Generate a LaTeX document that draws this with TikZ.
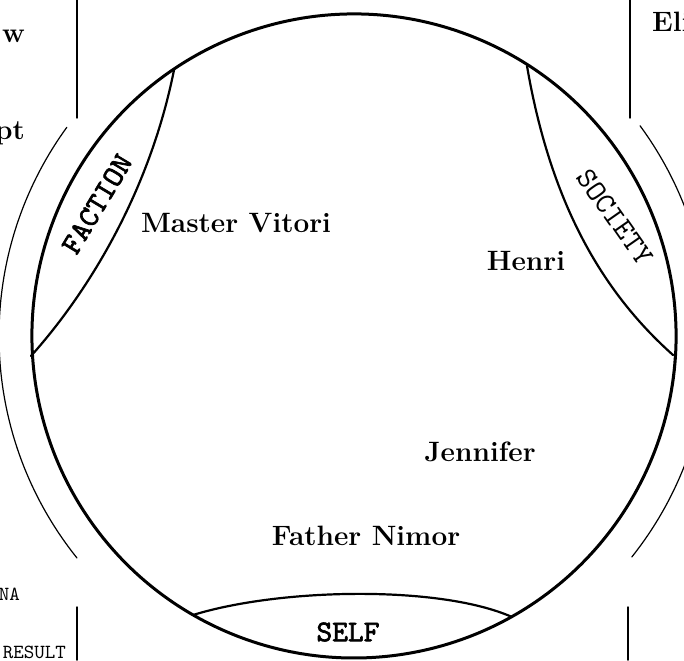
\documentclass[tikz,border=0pt]{standalone}
\usepackage{fontspec}
\newfontfamily\zonefont{lmmono10-regular.otf}
\newfontfamily\zoneboldfont{lmmono10-regular.otf}[FakeBold=2.2]
\usetikzlibrary{positioning}

\begin{document}
\begin{tikzpicture}[x=1pt, y=1pt, line cap=round]
    \tikzstyle{person}=[font=\bfseries\fontsize{28}{30}\selectfont, inner sep=0pt, anchor=base]
    \tikzstyle{zone}=[font=\zonefont\fontsize{30}{32}\selectfont, inner sep=0pt]
    \tikzstyle{zonebold}=[font=\zoneboldfont\fontsize{30}{32}\selectfont, inner sep=0pt]
    \tikzstyle{note}=[font=\zonefont\fontsize{20}{22}\selectfont, inner sep=0pt, anchor=base east]
    \tikzstyle{rim}=[line width=3pt]
    \tikzstyle{edge}=[line width=2.2pt]
    \tikzstyle{outer}=[line width=1.2pt]
    \useasboundingbox (0,0) rectangle (684,-660);
    \fill[white] (0,0) rectangle (684,-660);
    \coordinate (c) at (354,-336);
    % main ring, thinner below the society tip
    \draw[rim] (c) ++(-22:322) arc[start angle=-22, end angle=356.5, radius=322];
    \draw[outer] (c) ++(-22:322) arc[start angle=-22, end angle=-3.5, radius=322];
    % outer arcs
    \draw[outer] (c) ++(144:355) arc[start angle=144, end angle=218.7, radius=355];
    \draw[outer] (c) ++(36.3:355) arc[start angle=36.3, end angle=-38.5, radius=355];
    % lens tips
    \coordinate (fa) at (174,-70);
    \coordinate (fb) at (31,-356);
    \coordinate (sa) at (527,-66);
    \coordinate (sb) at (673,-355);
    \coordinate (la) at (193,-615);
    \coordinate (lb) at (512,-617);
    \draw[edge] (fa) .. controls (150,-190) and (90,-290) .. (fb);
    \draw[edge] (sa) .. controls (550,-200) and (600,-290) .. (sb);
    \draw[edge] (la) .. controls (280,-588) and (440,-585) .. (lb);
    % side rules
    \draw[line width=1.5pt] (77,0) -- (77,-118);
    \draw[line width=1.5pt] (630,0) -- (630,-118);
    \draw[line width=1.5pt] (77,-607) -- (77,-660);
    \draw[line width=1.5pt] (628,-607) -- (628,-660);
    % zones
    \node[zonebold, rotate=59] (faction) at (97,-204) {FACTION};
    \node[zone, rotate=-55] (society) at (615,-217) {SOCIETY};
    \node[zonebold] (self) at (348,-632) {SELF};
    % people
    \node[person] (vitori) at (236,-232) {Master Vitori};
    \node[person] (henri) at (526,-270) {Henri};
    \node[person] (jennifer) at (480,-461) {Jennifer};
    \node[person] (nimor) at (366,-545) {Father Nimor};
    % cut-off neighbours
    \node[person, anchor=base east] (w) at (25,-43) {w};
    \node[person, anchor=base east] (pt) at (25,-140) {pt};
    \node[person, anchor=base west] (eli) at (652,-32) {Eli};
    \node[note] (na) at (20,-600) {NA};
    \node[note] (result) at (66,-658) {RESULT};
\end{tikzpicture}
\end{document}
